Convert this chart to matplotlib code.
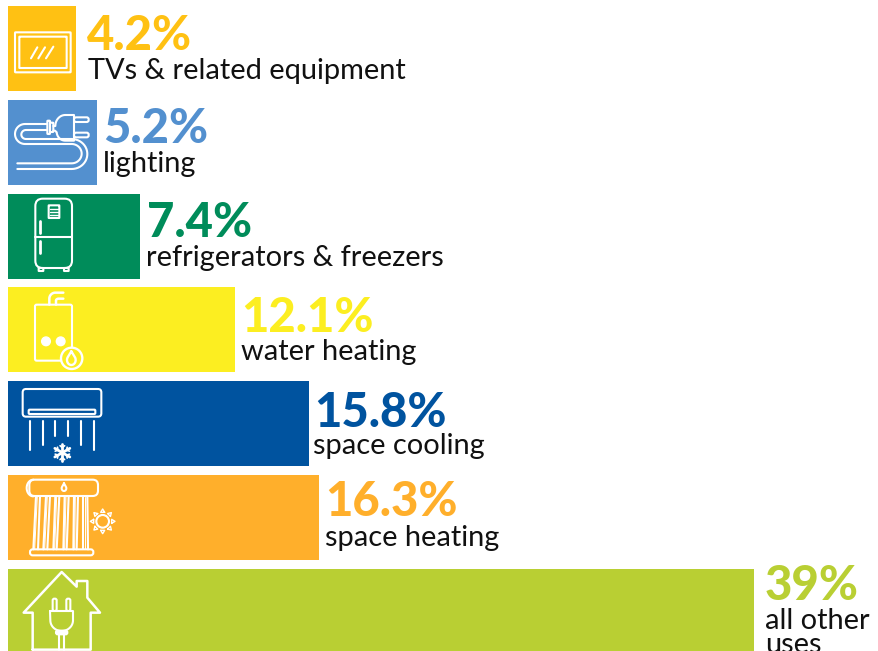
import numpy as np
import matplotlib
matplotlib.use("Agg")
import matplotlib.pyplot as plt
from matplotlib.patches import Circle, FancyBboxPatch

categories = ["TVs & related equipment", "lighting", "refrigerators & freezers",
              "water heating", "space cooling", "space heating", "all other\nuses"]
percent_labels = ["4.2%", "5.2%", "7.4%", "12.1%", "15.8%", "16.3%", "39%"]
# bar lengths as drawn in the picture (drawn lengths are not strictly proportional to the labels)
bar_lengths = [3.55, 4.65, 6.90, 11.87, 15.73, 16.26, 39.0]
colors = ["#FFC113", "#5390CF", "#008C5A", "#FCEE21", "#00539F", "#FFAF2B", "#B9CF33"]

W, H = 879, 651
fig = plt.figure(figsize=(W / 100, H / 100), dpi=100)
ax = fig.add_axes([0, 0, 1, 1])
PX = 19.13
PITCH = 93.83
ax.set_xlim(-8 / PX, (W - 8) / PX)
ax.set_ylim((H - 48.5) / PITCH, -48.5 / PITCH)
ax.axis("off")
ypos = np.arange(len(categories))
ax.barh(ypos, bar_lengths, height=85 / PITCH, color=colors, linewidth=0)

pt = 0.72
# label placement relative to each bar's end and centre, in pixels
pct_dx = [11, 6, 7, 6, 5, 6, 11]
cat_dx = [12, 6, 6, 6, 4, 6, 11]
pct_dy = [1.5, 0.7, 0.8, 2, 3, -1.6, -11.5]
cat_dy = [30.5, 29.7, 30, 30, 30, 28.4, 42]
for i, (y, L, c, cat, pct) in enumerate(zip(ypos, bar_lengths, colors, categories, percent_labels)):
    ax.annotate(pct, (L, y), xytext=(pct_dx[i] * pt, -pct_dy[i] * pt), textcoords="offset points",
                family="Lato", weight="black", fontsize=34, color=c, ha="left", va="baseline")
    ax.annotate(cat, (L, y), xytext=(cat_dx[i] * pt, -cat_dy[i] * pt), textcoords="offset points",
                family="Lato", weight="regular", fontsize=20.9, color="#111111", ha="left",
                va="baseline", linespacing=0.95, annotation_clip=False)

# white line icons, drawn in pixel space
ov = fig.add_axes([0, 0, 1, 1], facecolor="none")
ov.set_xlim(0, W)
ov.set_ylim(H, 0)
ov.axis("off")


def line(pts, ox=0, oy=0, lw=1.5, s=1 / 3, closed=False, z=3):
    p = np.array(pts, float) * s + [ox, oy]
    if closed:
        p = np.vstack([p, p[:1]])
    ov.plot(p[:, 0], p[:, 1], color="white", lw=lw, solid_capstyle="round",
            solid_joinstyle="round", zorder=z)


def arc(cx, cy, rx, ry, a0, a1, n=24):
    t = np.radians(np.linspace(a0, a1, n))
    return list(zip(cx + rx * np.cos(t), cy + ry * np.sin(t)))


def rrect(x0, y0, x1, y1, oy=0, r=8, lw=1.5, fill=False):
    s = 1 / 3
    ov.add_patch(FancyBboxPatch((x0 * s, y0 * s + oy), (x1 - x0) * s, (y1 - y0) * s,
                                boxstyle=f"round,pad=0,rounding_size={r * s}",
                                fc="white" if fill else "none", ec="white", lw=lw))


def circ(cx, cy, r, oy=0, lw=1.5, fill=False):
    s = 1 / 3
    ov.add_patch(Circle((cx * s, cy * s + oy), r * s, fc="white" if fill else "none",
                        ec="white", lw=lw))


# TV
rrect(45, 97, 212, 217, r=2)
rrect(58, 110, 200, 204, r=1)
for a, b in [((93, 175), (112, 142)), ((115, 175), (135, 142)), ((138, 175), (160, 140))]:
    line([a, b])

# plug and cord
line([(140, 372), (75, 372)] + arc(75, 402, 30, 30, 270, 90) + [(215, 432)] +
     arc(215, 461, 30, 29, -90, 90) + [(52, 490)])
line([(140, 390), (78, 390)] + arc(78, 403.5, 14, 13.5, 270, 90) + [(215, 417)] +
     arc(215, 462, 47, 45, -90, 90) + [(52, 507)])
rrect(142, 362, 150, 402, r=2)
rrect(150, 368, 160, 396, r=2)
line([(160, 378)] + arc(196, 378, 30, 33, 180, 270) + [(222, 345), (222, 422), (196, 422)] +
     arc(196, 395, 26, 27, 90, 180)[:-1] + [(165, 392), (160, 392)])
rrect(222, 352, 266, 366, r=6)
rrect(222, 398, 266, 412, r=6)

# fridge
oy = 190
rrect(106, 26, 216, 234, oy=oy, r=22)
line([(106, 141), (216, 141)], oy=oy)
line([(120, 92), (120, 128)], oy=oy, lw=2)
line([(120, 152), (120, 190)], oy=oy, lw=2)
rrect(146, 46, 178, 84, oy=oy, r=1)
for yy in (56, 66, 75):
    line([(151, yy), (173, yy)], oy=oy, lw=1)
rrect(116, 234, 130, 243, oy=oy, r=1)
rrect(192, 234, 206, 243, oy=oy, r=1)

# water heater
oy = 190
rrect(105, 344, 216, 512, oy=oy, r=5)
line([(148, 344), (148, 326)] + arc(166, 326, 18, 18, 180, 270) + [(190, 308)], oy=oy, lw=1.8)
line([(168, 344), (168, 332)] + arc(176, 332, 8, 6, 180, 270) + [(190, 326)], oy=oy, lw=1.8)
circ(138, 454, 13, oy=oy, lw=1, fill=True)
circ(182, 454, 13, oy=oy, lw=1, fill=True)
ov.add_patch(Circle((215 / 3, 505 / 3 + oy), 32 / 3, fc=colors[3], ec="white", lw=1.7, zorder=3))
line([(214, 484)] + arc(214, 510, 13, 15, -30, 210) + [(214, 484)], oy=oy, lw=1.7, z=4)

# air conditioner
oy = 378
rrect(68, 33, 304, 116, oy=oy, r=10)
rrect(86, 95, 286, 108, oy=oy, r=3)
line([(90, 130), (90, 216)], oy=oy)
line([(128, 130), (128, 202)], oy=oy)
line([(166, 130), (166, 174)], oy=oy)
line([(205, 130), (205, 174)], oy=oy)
line([(243, 130), (243, 202)], oy=oy)
line([(282, 130), (282, 216)], oy=oy)
for ang in range(0, 360, 60):
    ca, sa = np.cos(np.radians(ang + 90)), np.sin(np.radians(ang + 90))
    line([(187, 224), (187 + 26 * ca, 224 + 26 * sa)], oy=oy, lw=2)
    bx, by = 187 + 15 * ca, 224 + 15 * sa
    for d in (-50, 50):
        a = np.radians(ang + 90 + d)
        line([(bx, by), (bx + 9 * np.cos(a), by + 9 * np.sin(a))], oy=oy, lw=1.2)

# solar heater
oy2 = 378
rrect(88, 305, 294, 354, oy=oy2, r=16)
line(arc(100, 330, 20, 25, 90, 270), oy=oy2)
line([(192, 316)] + arc(192, 331, 7, 8, -30, 210) + [(192, 316)], oy=oy2)
rrect(90, 514, 280, 532, oy=oy2, r=8)
tops = [(108, 120), (138, 150), (166, 178), (194, 206), (222, 234), (250, 262)]
bots = [(100, 114), (130, 142), (160, 170), (190, 200), (220, 230), (250, 264)]
for (t0, t1), (b0, b1) in zip(tops, bots):
    line([(t0, 354), (b0, 514)], oy=oy2)
    line([(t1, 354), (b1, 514)], oy=oy2)
    line([(t0 + 4, 356), (b0 + 4, 514)], oy=oy2, lw=0.7)
circ(308, 430, 19, oy=oy2)
for a in range(0, 360, 45):
    c, sn = np.cos(np.radians(a)), np.sin(np.radians(a))
    tip = (308 + 37 * c, 430 + 37 * sn)
    l = (308 + 27 * c - 6 * sn, 430 + 27 * sn + 6 * c)
    r = (308 + 27 * c + 6 * sn, 430 + 27 * sn - 6 * c)
    line([l, tip, r], oy=oy2, lw=1, closed=True)

# house and plug
oy = 561
line([(98, 266), (98, 155), (71, 155), (185, 33), (230, 77), (230, 60), (262, 60),
      (262, 110), (300, 155), (272, 155), (272, 266), (98, 266)], oy=oy, lw=1.8)
rrect(158, 113, 170, 150, oy=oy, r=5)
rrect(199, 113, 211, 150, oy=oy, r=5)
line([(150, 150), (219, 150), (219, 178)] + arc(185, 178, 34, 32, 0, 180) + [(150, 150)], oy=oy)
rrect(168, 209, 202, 220, oy=oy, r=5, fill=True)
line([(176, 220), (176, 266)], oy=oy)
line([(192, 220), (192, 266)], oy=oy)

fig.savefig("out.png", dpi=100)
